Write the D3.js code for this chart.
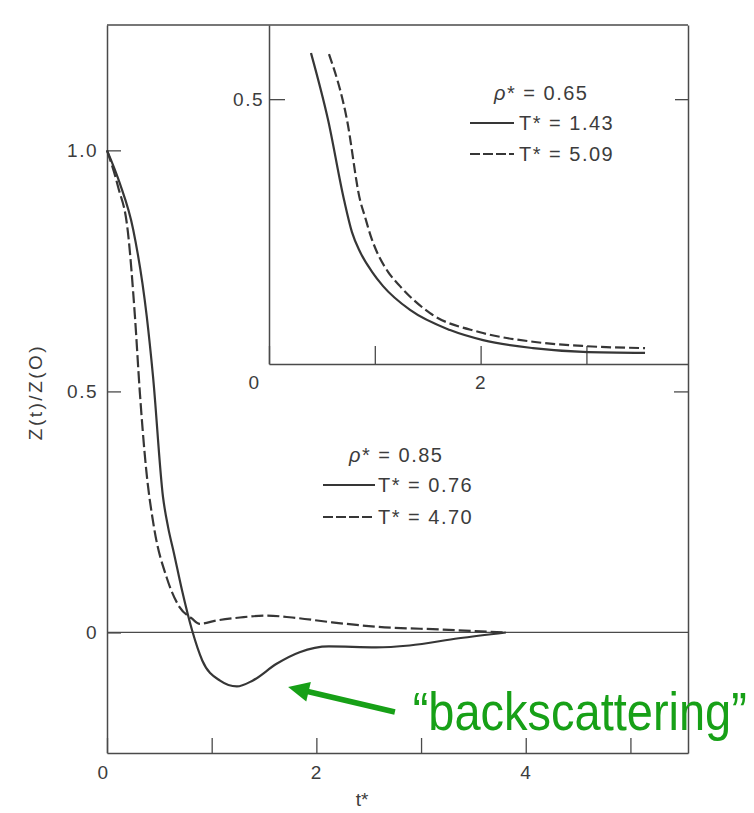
<!DOCTYPE html>
<html>
<head>
<meta charset="utf-8">
<script src="https://cdn.jsdelivr.net/npm/d3@7"></script>
<style>
  html, body { margin: 0; padding: 0; background: #ffffff; }
  svg { display: block; }
  .lbl { font-family: "Liberation Sans", Arial, sans-serif; fill: #3c3c3c; }
</style>
</head>
<body>
<svg id="chart" width="754" height="813"></svg>
<script>
// Main panel: rho* = 0.85
const mainLowTTime = [0, 0.12, 0.25, 0.38, 0.44, 0.535, 0.583, 0.64, 0.716, 0.812, 0.91, 1.08, 1.24, 1.39, 1.62, 1.84, 2.12, 2.57, 2.89, 3.36, 3.81];
const mainLowT = [1.0, 0.933, 0.836, 0.655, 0.53, 0.281, 0.219, 0.164, 0.088, 0.005, -0.058, -0.100, -0.112, -0.100, -0.065, -0.041, -0.029, -0.031, -0.027, -0.012, 0];
const mainHighTTime = [0, 0.105, 0.2, 0.267, 0.314, 0.372, 0.449, 0.57, 0.695, 0.81, 0.886, 1.05, 1.27, 1.52, 1.77, 2.15, 2.57, 3.21, 3.81];
const mainHighT = [1.0, 0.925, 0.83, 0.655, 0.497, 0.343, 0.218, 0.114, 0.052, 0.029, 0.018, 0.025, 0.031, 0.035, 0.031, 0.021, 0.012, 0.006, 0];

// Inset panel: rho* = 0.65
const insetLowTTime = [0.397, 0.558, 0.709, 0.784, 0.86, 0.974, 1.078, 1.333, 1.711, 2.023, 2.495, 2.968, 3.554];
const insetLowT = [0.587, 0.461, 0.310, 0.249, 0.212, 0.174, 0.147, 0.102, 0.064, 0.045, 0.030, 0.023, 0.021];
const insetHighTTime = [0.567, 0.737, 0.86, 0.907, 0.964, 1.021, 1.125, 1.238, 1.522, 1.994, 2.495, 2.968, 3.554];
const insetHighT = [0.585, 0.461, 0.310, 0.278, 0.240, 0.211, 0.174, 0.147, 0.096, 0.060, 0.042, 0.034, 0.030];

// Tick values and labels
const mainXTicks = [0, 1, 2, 3, 4, 5];
const mainXLabels = [0, 2, 4];
const mainYTicks = [0, 0.5, 1.0];
const insetXTicks = [0, 1, 2, 3];
const insetXLabels = [0, 2];
const insetYTicks = [0.5];

// Legend entries
const mainLegendRho = "0.85";
const mainLegend = ["T* = 0.76", "T* = 4.70"];
const insetLegendRho = "0.65";
const insetLegend = ["T* = 1.43", "T* = 5.09"];

// Annotation (data coordinates of the main panel)
const noteText = "\u201Cbackscattering\u201D";
const noteArrowTip = [1.73, -0.113];
const noteArrowTail = [2.75, -0.165];
const noteAnchor = [2.92, -0.202];

const svg = d3.select("#chart");
const ink = "#363636";
const axisInk = "#4a4a4a";

// Scales
const x = d3.scaleLinear().domain([0, 5.55]).range([107, 688]);
const y = d3.scaleLinear().domain([-0.25, 1.26]).range([753, 25]);
const xi = d3.scaleLinear().domain([0, 3.96]).range([269, 688]);
const yi = d3.scaleLinear().domain([0, 0.64]).range([364, 25]);

function styleAxis(g) {
  g.selectAll("path.domain").attr("stroke", axisInk).attr("stroke-width", 1.5);
  g.selectAll(".tick line").attr("stroke", axisInk).attr("stroke-width", 1.3);
  g.selectAll(".tick text")
    .attr("class", "lbl")
    .style("font-size", "19px")
    .style("letter-spacing", "1.5px")
    .attr("fill", "#3c3c3c");
  g.attr("font-family", null).attr("font-size", null);
}

// ---- Main frame ----
svg.append("line").attr("x1", x.range()[0]).attr("x2", x.range()[1])
  .attr("y1", y.range()[1]).attr("y2", y.range()[1])
  .attr("stroke", axisInk).attr("stroke-width", 1.5);

const gLeft = svg.append("g").attr("transform", `translate(${x.range()[0]},0)`)
  .call(d3.axisLeft(y).tickValues(mainYTicks).tickSizeInner(-14).tickSizeOuter(0)
    .tickPadding(9).tickFormat(d => d === 0 ? "0" : d3.format(".1f")(d)));
styleAxis(gLeft);

const gRight = svg.append("g").attr("transform", `translate(${x.range()[1]},0)`)
  .call(d3.axisRight(y).tickValues([0.5]).tickSizeInner(-14).tickSizeOuter(0).tickFormat(""));
styleAxis(gRight);

const gBottom = svg.append("g").attr("transform", `translate(0,${y.range()[0]})`)
  .call(d3.axisBottom(x).tickValues(mainXTicks).tickSizeInner(-15).tickSizeOuter(0)
    .tickPadding(13).tickFormat(d => mainXLabels.includes(d) ? String(d) : ""));
styleAxis(gBottom);
gBottom.selectAll(".tick").filter(d => d === 0).select("text").attr("dx", -4);

// zero line
svg.append("line").attr("x1", x(0)).attr("x2", x.range()[1])
  .attr("y1", y(0)).attr("y2", y(0))
  .attr("stroke", axisInk).attr("stroke-width", 1.3);

// ---- Inset frame ----
const giLeft = svg.append("g").attr("transform", `translate(${xi.range()[0]},0)`)
  .call(d3.axisLeft(yi).tickValues(insetYTicks).tickSizeInner(-16).tickSizeOuter(0)
    .tickPadding(5).tickFormat(d3.format(".1f")));
styleAxis(giLeft);

const giRight = svg.append("g").attr("transform", `translate(${xi.range()[1]},0)`)
  .call(d3.axisRight(yi).tickValues(insetYTicks).tickSizeInner(-13).tickSizeOuter(0).tickFormat(""));
styleAxis(giRight);
giRight.select("path.domain").remove();

const giBottom = svg.append("g").attr("transform", `translate(0,${yi.range()[0]})`)
  .call(d3.axisBottom(xi).tickValues(insetXTicks).tickSizeInner(-18).tickSizeOuter(0)
    .tickPadding(12).tickFormat(d => insetXLabels.includes(d) ? String(d) : ""));
styleAxis(giBottom);
giBottom.selectAll(".tick").filter(d => d === 0).select("text").attr("dx", -15);

// ---- Curves ----
const curve = d3.curveMonotoneX;
const mainLine = d3.line().x(d => x(d[0])).y(d => y(d[1])).curve(curve);
const insetLine = d3.line().x(d => xi(d[0])).y(d => yi(d[1])).curve(curve);

svg.append("path").datum(d3.zip(mainLowTTime, mainLowT)).attr("d", mainLine)
  .attr("fill", "none").attr("stroke", ink).attr("stroke-width", 2.2);
svg.append("path").datum(d3.zip(mainHighTTime, mainHighT)).attr("d", mainLine)
  .attr("fill", "none").attr("stroke", ink).attr("stroke-width", 2.2)
  .attr("stroke-dasharray", "12 4");

svg.append("path").datum(d3.zip(insetLowTTime, insetLowT)).attr("d", insetLine)
  .attr("fill", "none").attr("stroke", ink).attr("stroke-width", 2.2);
svg.append("path").datum(d3.zip(insetHighTTime, insetHighT)).attr("d", insetLine)
  .attr("fill", "none").attr("stroke", ink).attr("stroke-width", 2.2)
  .attr("stroke-dasharray", "10 4");

// ---- Axis titles ----
svg.append("text").attr("class", "lbl")
  .attr("transform", "translate(42,392) rotate(-90)")
  .attr("text-anchor", "middle")
  .style("font-size", "19px").style("letter-spacing", "2.5px")
  .text("Z(t)/Z(O)");

svg.append("text").attr("class", "lbl")
  .attr("x", 362).attr("y", 806)
  .attr("text-anchor", "middle")
  .style("font-size", "19px")
  .text("t*");

// ---- Legends ----
function legend(rho, entries, titleX, titleY, lineX0, lineX1, textX, rowY, dashes) {
  const title = svg.append("text").attr("class", "lbl")
    .attr("x", titleX).attr("y", titleY)
    .style("font-size", "20px").style("letter-spacing", "1.5px");
  title.append("tspan").attr("font-style", "italic").text("\u03C1");
  title.append("tspan").text(`* = ${rho}`);
  entries.forEach((t, i) => {
    const yy = rowY[i];
    svg.append("line").attr("x1", lineX0).attr("x2", lineX1)
      .attr("y1", yy - 3).attr("y2", yy - 3)
      .attr("stroke", ink).attr("stroke-width", 2.2)
      .attr("stroke-dasharray", dashes[i]);
    svg.append("text").attr("class", "lbl")
      .attr("x", textX).attr("y", yy + 4)
      .style("font-size", "20px").style("letter-spacing", "1.5px")
      .text(t);
  });
}
legend(insetLegendRho, insetLegend, 494, 100, 470, 514, 519, [126, 157], [null, "10 3"]);
legend(mainLegendRho, mainLegend, 349, 462, 323, 375, 378, [488, 520], [null, "10 3"]);

// ---- Annotation ----
const green = "#17a017";
const tip = [x(noteArrowTip[0]), y(noteArrowTip[1])];
const tail = [x(noteArrowTail[0]), y(noteArrowTail[1])];
const ang = Math.atan2(tip[1] - tail[1], tip[0] - tail[0]);
const headLen = 21, headHalf = 10;
const base = [tip[0] - headLen * Math.cos(ang), tip[1] - headLen * Math.sin(ang)];
svg.append("line")
  .attr("x1", tail[0]).attr("y1", tail[1])
  .attr("x2", base[0] + 2 * Math.cos(ang)).attr("y2", base[1] + 2 * Math.sin(ang))
  .attr("stroke", green).attr("stroke-width", 5.5);
svg.append("path")
  .attr("d", d3.line()([
    tip,
    [base[0] - headHalf * Math.sin(ang), base[1] + headHalf * Math.cos(ang)],
    [base[0] + headHalf * Math.sin(ang), base[1] - headHalf * Math.cos(ang)]
  ]) + "Z")
  .attr("fill", green);

// tall, slightly condensed lettering
svg.append("text")
  .attr("transform", `translate(${x(noteAnchor[0])},${y(noteAnchor[1])}) scale(1,1.15)`)
  .attr("font-family", "'Liberation Sans', Arial, sans-serif")
  .attr("font-size", 47)
  .attr("fill", green)
  .text(noteText);
</script>
</body>
</html>
